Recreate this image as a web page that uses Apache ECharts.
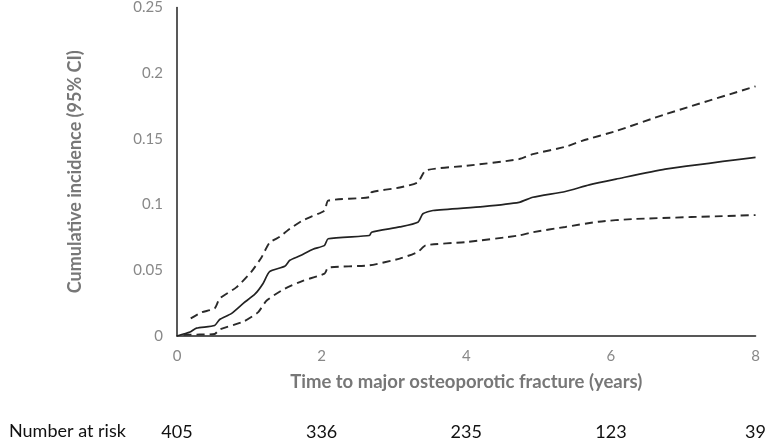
<!DOCTYPE html>
<html>
<head>
<meta charset="utf-8">
<script src="https://cdn.jsdelivr.net/npm/echarts@6/dist/echarts.min.js"></script>
<style>
  html, body { margin: 0; padding: 0; background: #fff; }
  #main { width: 769px; height: 446px; }
</style>
</head>
<body>
<div id="main"></div>
<script>
// cumulative incidence estimate [years, value]
var estimate = [
  [0, 0], [0.18, 0.003], [0.27, 0.006], [0.52, 0.008], [0.59, 0.0126],
  [0.75, 0.017], [0.92, 0.025], [1.08, 0.032], [1.19, 0.04], [1.28, 0.049],
  [1.49, 0.053], [1.56, 0.0576], [1.7, 0.061], [1.88, 0.066], [2.04, 0.069],
  [2.09, 0.074], [2.66, 0.0765], [2.69, 0.079], [3.08, 0.083], [3.33, 0.0866],
  [3.4, 0.093], [3.54, 0.0955], [4.23, 0.0985], [4.73, 0.1017], [4.92, 0.1056],
  [5.37, 0.11], [5.7, 0.115], [6.07, 0.1194], [6.75, 0.127], [8, 0.136]
];
var upperCI = [
  [0.19, 0.0134], [0.34, 0.018], [0.52, 0.021], [0.59, 0.0285], [0.82, 0.037],
  [1.03, 0.049], [1.17, 0.06], [1.28, 0.071], [1.42, 0.0755], [1.56, 0.0816],
  [1.74, 0.088], [2.04, 0.0955], [2.09, 0.103], [2.66, 0.1056], [2.69, 0.1094],
  [3.08, 0.113], [3.33, 0.117], [3.44, 0.126], [4.0, 0.1295], [4.73, 0.1346],
  [4.92, 0.1384], [5.37, 0.144], [5.6, 0.1485], [6.07, 0.156], [6.75, 0.1687],
  [8, 0.19]
];
var lowerCI = [
  [0.09, 0.001], [0.52, 0.0015], [0.59, 0.005], [0.92, 0.011], [1.12, 0.018],
  [1.24, 0.027], [1.49, 0.036], [1.74, 0.042], [2.04, 0.0475], [2.09, 0.052],
  [2.66, 0.0538], [3.08, 0.0589], [3.33, 0.064], [3.44, 0.069], [4.0, 0.0715],
  [4.73, 0.0765], [4.92, 0.079], [5.37, 0.083], [5.83, 0.087], [6.3, 0.089],
  [8, 0.092]
];
var riskTimes = [0, 2, 4, 6, 8];
var riskCounts = [405, 336, 235, 123, 39];

var chart = echarts.init(document.getElementById("main"));
var font = "Lato, 'Open Sans', sans-serif";

var option = {
  animation: false,
  grid: { left: 177, right: 12, top: 6, bottom: 110 },
  xAxis: [
    {
      type: "value",
      min: 0,
      max: 8,
      interval: 2,
      name: "Time to major osteoporotic fracture (years)",
      nameLocation: "middle",
      nameGap: 37,
      nameTextStyle: { fontFamily: font, fontSize: 18.5, fontWeight: "bold", color: "#777" },
      axisLine: { lineStyle: { color: "#222", width: 1.5 } },
      axisTick: { show: false },
      splitLine: { show: false },
      axisLabel: { fontFamily: font, fontSize: 15, color: "#888", margin: 13 }
    },
    {
      type: "value",
      min: 0,
      max: 8,
      interval: 2,
      position: "bottom",
      offset: 82,
      axisLine: { show: false },
      axisTick: { show: false },
      splitLine: { show: false },
      axisLabel: {
        fontFamily: font,
        fontSize: 18,
        color: "#111",
        margin: 5,
        formatter: function (v) {
          var i = riskTimes.indexOf(v);
          return i >= 0 ? String(riskCounts[i]) : "";
        }
      }
    }
  ],
  yAxis: {
    type: "value",
    min: 0,
    max: 0.25,
    interval: 0.05,
    name: "Cumulative incidence (95% CI)",
    nameLocation: "middle",
    nameGap: 93,
    nameTextStyle: { fontFamily: font, fontSize: 18, fontWeight: "bold", color: "#777" },
    axisLine: { show: true, lineStyle: { color: "#222", width: 1.5 } },
    axisTick: { show: false },
    splitLine: { show: false },
    axisLabel: { fontFamily: font, fontSize: 15, color: "#888", margin: 14 }
  },
  graphic: [
    {
      type: "text",
      left: 9,
      top: 422,
      style: { text: "Number at risk", fontFamily: font, fontSize: 18, fill: "#111" }
    }
  ],
  series: [
    {
      type: "line",
      data: estimate,
      showSymbol: false,
      smooth: 0.2,
      lineStyle: { color: "#222", width: 1.7 }
    },
    {
      type: "line",
      data: upperCI,
      showSymbol: false,
      smooth: 0.2,
      lineStyle: { color: "#2a2a2a", width: 1.9, type: [8, 5] }
    },
    {
      type: "line",
      data: lowerCI,
      showSymbol: false,
      smooth: 0.2,
      lineStyle: { color: "#2a2a2a", width: 1.9, type: [8, 5] }
    }
  ]
};

chart.setOption(option);
</script>
</body>
</html>
